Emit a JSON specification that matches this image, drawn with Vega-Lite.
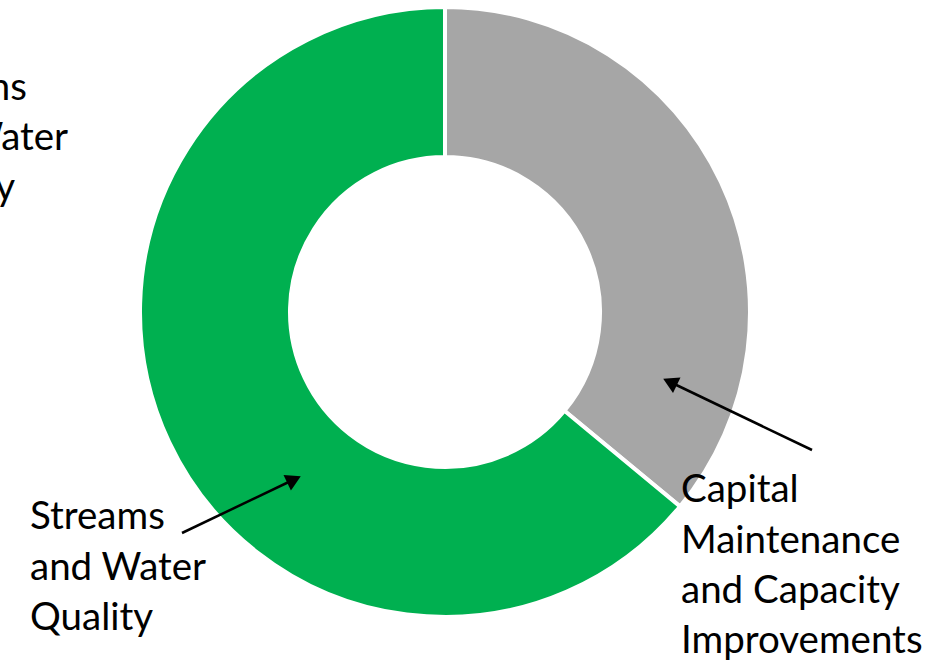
{
  "$schema": "https://vega.github.io/schema/vega-lite/v6.json",
  "width": 930,
  "height": 661,
  "autosize": "none",
  "padding": 0,
  "background": "white",
  "config": {"view": {"stroke": null}},
  "datasets": {
    "slices": [
      {"category": "Capital Maintenance and Capacity Improvements", "share": 36, "order": 1, "cx": 445, "cy": 312},
      {"category": "Streams and Water Quality", "share": 64, "order": 2, "cx": 445, "cy": 312}
    ],
    "labels": [
      {"line": "Capital", "x": 681, "y": 502},
      {"line": "Maintenance", "x": 681, "y": 553},
      {"line": "and Capacity", "x": 681, "y": 603},
      {"line": "Improvements", "x": 681, "y": 653},
      {"line": "Streams", "x": 30, "y": 529},
      {"line": "and Water", "x": 30, "y": 580},
      {"line": "Quality", "x": 30, "y": 630},
      {"line": "Streams", "x": -108, "y": 100},
      {"line": "and Water", "x": -108, "y": 150},
      {"line": "Quality", "x": -108, "y": 200}
    ],
    "arrows": [
      {"x": 812, "y": 450, "x2": 668, "y2": 381},
      {"x": 182, "y": 533, "x2": 295, "y2": 479}
    ],
    "heads": [
      {"x": 670, "y": 382, "angle": 295.6},
      {"x": 294, "y": 479.5, "angle": 64.6}
    ]
  },
  "layer": [
    {
      "data": {"name": "slices"},
      "mark": {"type": "arc", "outerRadius": 305, "innerRadius": 155, "stroke": "white", "strokeWidth": 4},
      "encoding": {
        "x": {"field": "cx", "type": "quantitative", "scale": {"domain": [0, 930], "range": [0, 930]}, "axis": null},
        "y": {"field": "cy", "type": "quantitative", "scale": {"domain": [0, 661], "range": [0, 661]}, "axis": null},
        "theta": {"field": "share", "type": "quantitative", "stack": true},
        "order": {"field": "order", "type": "quantitative"},
        "color": {
          "field": "category", "type": "nominal",
          "scale": {"domain": ["Capital Maintenance and Capacity Improvements", "Streams and Water Quality"], "range": ["#A6A6A6", "#00B050"]},
          "legend": null
        }
      }
    },
    {
      "data": {"name": "arrows"},
      "mark": {"type": "rule", "color": "black", "strokeWidth": 2.5},
      "encoding": {
        "x": {"field": "x", "type": "quantitative", "scale": {"domain": [0, 930], "range": [0, 930]}, "axis": null},
        "y": {"field": "y", "type": "quantitative", "scale": {"domain": [0, 661], "range": [0, 661]}, "axis": null},
        "x2": {"field": "x2"},
        "y2": {"field": "y2"}
      }
    },
    {
      "data": {"name": "heads"},
      "mark": {"type": "point", "shape": "triangle-up", "filled": true, "color": "black", "opacity": 1, "size": 300, "strokeWidth": 0},
      "encoding": {
        "x": {"field": "x", "type": "quantitative", "scale": {"domain": [0, 930], "range": [0, 930]}, "axis": null},
        "y": {"field": "y", "type": "quantitative", "scale": {"domain": [0, 661], "range": [0, 661]}, "axis": null},
        "angle": {"field": "angle", "type": "quantitative", "scale": null}
      }
    },
    {
      "data": {"name": "labels"},
      "mark": {"type": "text", "font": "Lato", "fontSize": 38.5, "align": "left", "baseline": "alphabetic", "color": "black"},
      "encoding": {
        "x": {"field": "x", "type": "quantitative", "scale": {"domain": [0, 930], "range": [0, 930]}, "axis": null},
        "y": {"field": "y", "type": "quantitative", "scale": {"domain": [0, 661], "range": [0, 661]}, "axis": null},
        "text": {"field": "line"}
      }
    }
  ]
}
